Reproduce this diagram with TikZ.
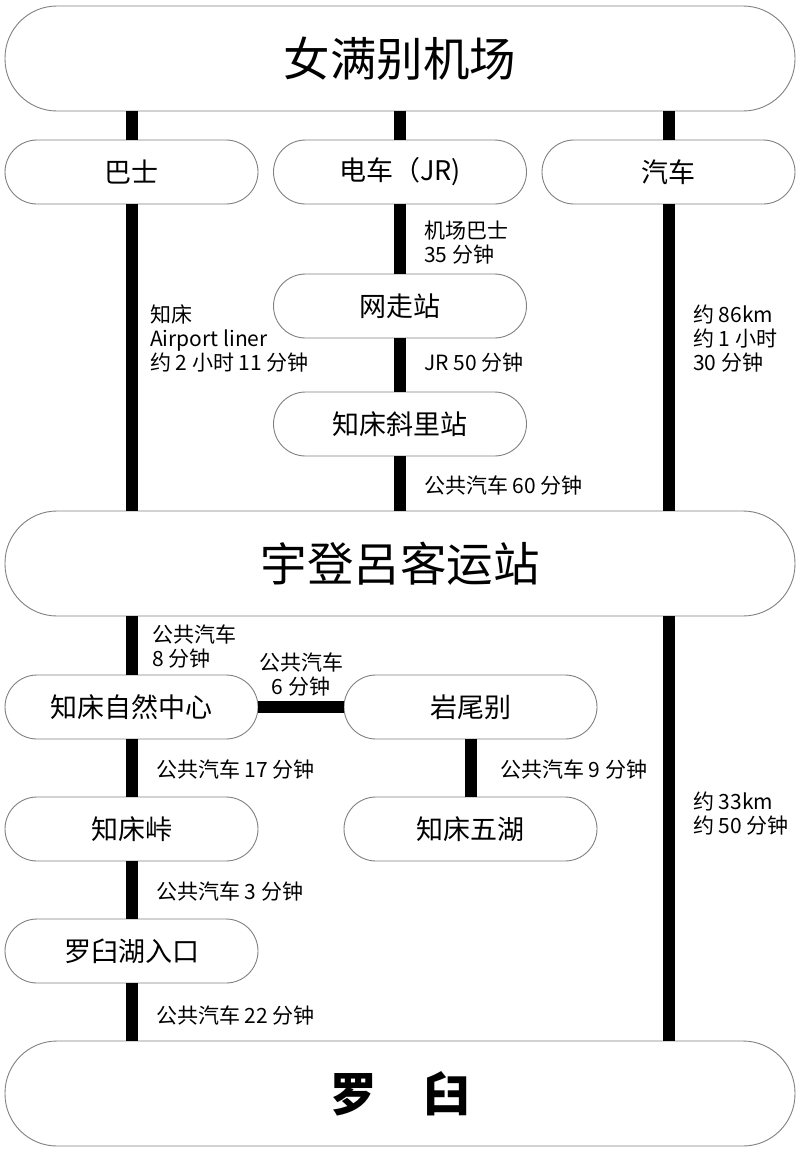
\documentclass[tikz,border=0pt]{standalone}
\usepackage{fontspec}
\setmainfont{Noto Sans CJK SC}
\newcommand{\fbig}{\fontsize{46.5}{54}\selectfont}
\newcommand{\fmid}{\fontsize{27}{32}\selectfont}
\newcommand{\fsml}{\fontsize{21}{24}\selectfont}
\begin{document}
\begin{tikzpicture}[x=1pt,y=-1pt,
  boxbase/.style={draw=black!50, line width=0.9pt, fill=white, inner sep=0pt},
  bigbox/.style={boxbase, rounded corners=52pt, minimum width=790pt, minimum height=105pt, font=\fbig},
  midbox/.style={boxbase, rounded corners=32pt, minimum width=253pt, minimum height=64pt, font=\fmid},
  route/.style={line width=12pt, black},
  lbl/.style={anchor=west, inner sep=0pt, font=\fsml, align=left},
]
\useasboundingbox (0,0) rectangle (800,1154);
% nodes
\node[bigbox] (top) at (400,58.5) {女满别机场};
\node[midbox] (bus) at (131.5,172) {巴士};
\node[midbox] (train) at (400,172) {电车（JR)};
\node[midbox] (car) at (668.5,172) {汽车};
\node[midbox] (abashiri) at (400,306) {网走站};
\node[midbox] (shari) at (400,424) {知床斜里站};
\node[bigbox] (utoro) at (400,563.5) {宇登呂客运站};
\node[midbox] (nature) at (131.5,707) {知床自然中心};
\node[midbox] (iwao) at (470.5,707) {岩尾别};
\node[midbox] (pass) at (131.5,829) {知床峠};
\node[midbox] (goko) at (470.5,829) {知床五湖};
\node[midbox] (lake) at (131.5,951) {罗臼湖入口};
\node[bigbox, font=\fbig\bfseries] (rausu) at (400,1093.5) {罗\hspace{1em}臼};
% connectors
\draw[route] (top.south -| bus.north) -- (bus.north);
\draw[route] (top.south -| train.north) -- (train.north);
\draw[route] (top.south -| car.north) -- (car.north);
\draw[route] (bus.south) -- (utoro.north -| bus.south);
\draw[route] (train.south) -- (abashiri.north);
\draw[route] (abashiri.south) -- (shari.north);
\draw[route] (shari.south) -- (utoro.north);
\draw[route] (car.south) -- (utoro.north -| car.south);
\draw[route] (utoro.south -| nature.north) -- (nature.north);
\draw[route] (nature.south) -- (pass.north);
\draw[route] (pass.south) -- (lake.north);
\draw[route] (lake.south) -- (rausu.north -| lake.south);
\draw[route] (utoro.south -| car.south) -- (rausu.north -| car.south);
\draw[route] (nature.east) -- (iwao.west);
\draw[route] (iwao.south) -- (goko.north);
% labels
\node[lbl] (l1) at (424,243) {机场巴士\\35 分钟};
\node[lbl] (l2) at (424,363) {JR 50 分钟};
\node[lbl] (l3) at (424,485) {公共汽车 60 分钟};
\node[lbl] (l4) at (150,338) {知床\\Airport liner\\约 2 小时 11 分钟};
\node[lbl] (l5) at (693,339) {约 86km\\约 1 小时\\30 分钟};
\node[lbl] (l6) at (152,646) {公共汽车\\8 分钟};
\node[inner sep=0pt, font=\fsml, align=center] (l7) at (301,674) {公共汽车\\6 分钟};
\node[lbl] (l8) at (156,769) {公共汽车 17 分钟};
\node[lbl] (l9) at (500,769) {公共汽车 9 分钟};
\node[lbl] (l10) at (693,814) {约 33km\\约 50 分钟};
\node[lbl] (l11) at (156,891) {公共汽车 3 分钟};
\node[lbl] (l12) at (156,1015) {公共汽车 22 分钟};
\end{tikzpicture}
\end{document}
